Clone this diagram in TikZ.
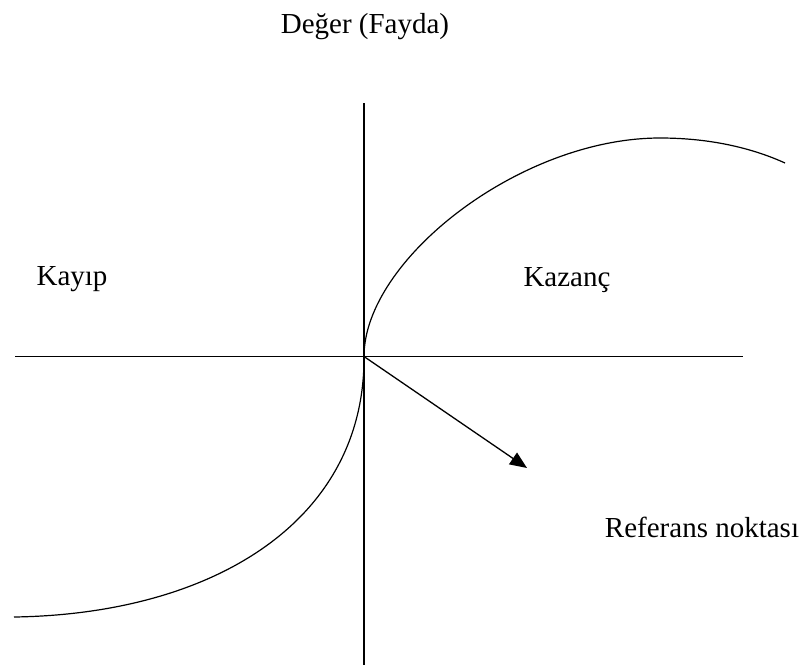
\documentclass[tikz,border=0pt]{standalone}
\usepackage{fontspec}
\setmainfont{Liberation Serif}
\usetikzlibrary{arrows.meta}
\begin{document}
\begin{tikzpicture}[x=1pt,y=-1pt,
  axis/.style={line width=1.3pt,black},
  curve/.style={line width=1.2pt,black},
  lbl/.style={font=\fontsize{29}{32}\selectfont,inner sep=0pt,anchor=base}]
\useasboundingbox (0,0) rectangle (805,665);
\coordinate (O) at (364,356.5);
\coordinate (vtop) at (364,103);
\coordinate (vbot) at (364,665);
\coordinate (hl) at (15,356.5);
\coordinate (hr) at (743,356.5);
\coordinate (peak) at (660,138);
\coordinate (uend) at (785,163);
\coordinate (lend) at (14,617);
\coordinate (atip) at (527,468);
\draw[axis] (vtop) -- (vbot);
\draw[axis] (hl) -- (hr);
\draw[curve] (O) .. controls (364,260) and (520,138) .. (peak)
  .. controls (710,138) and (752,148) .. (uend);
\draw[curve] (O) .. controls (365,520) and (215,614) .. (lend);
\draw[line width=1.3pt,-{Triangle[length=17pt,width=14pt]}] (O) -- (atip);
\node[lbl] (deger) at (365,33) {Değer (Fayda)};
\node[lbl] (kayip) at (72,285) {Kayıp};
\node[lbl] (kazanc) at (567,286) {Kazanç};
\node[lbl] (ref) at (702,537) {Referans noktası};
\end{tikzpicture}
\end{document}
